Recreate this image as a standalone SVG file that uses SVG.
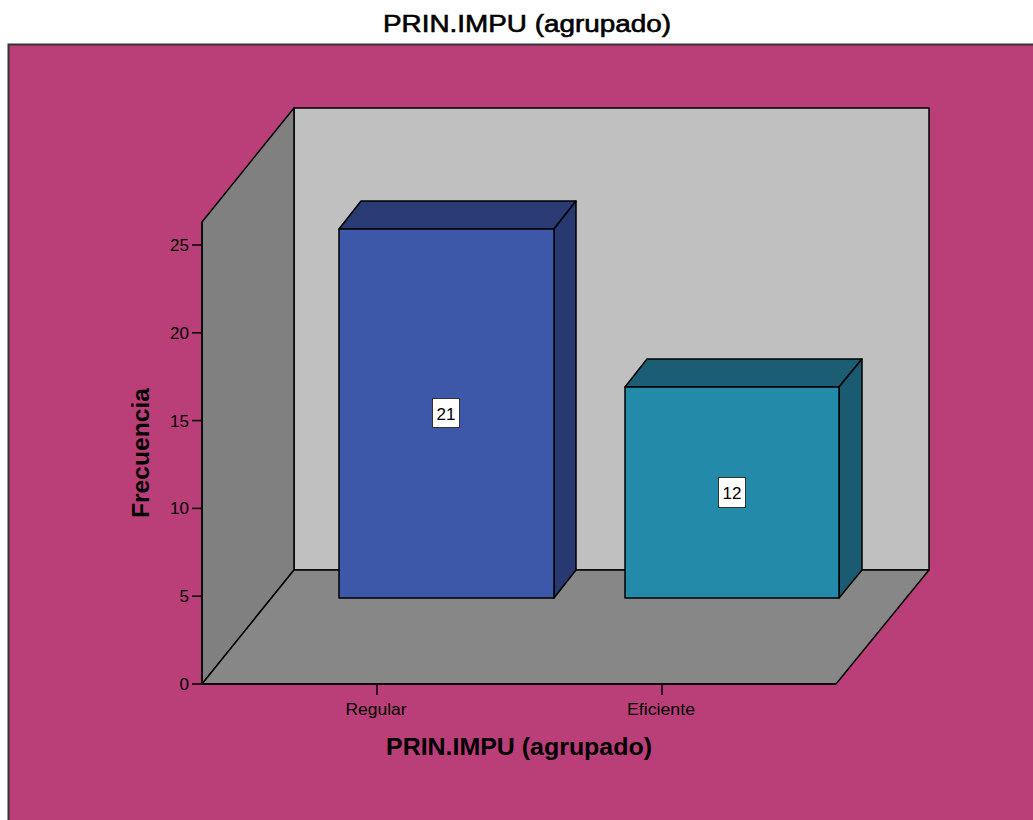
<svg xmlns="http://www.w3.org/2000/svg" width="1033" height="820" viewBox="0 0 1033 820">
<style>
text { font-family: "Liberation Sans", Arial, sans-serif; fill: #000; }
.tick { font-size: 17px; text-anchor: end; }
.cat { font-size: 17px; text-anchor: middle; }
.ttl { font-size: 24px; font-weight: bold; text-anchor: middle; }
.val { font-size: 17px; text-anchor: middle; }
.edge { stroke: #000; stroke-width: 1.5; stroke-linejoin: round; }
.vbox { fill: #fff; stroke: #333; stroke-width: 1; }
.tk { stroke: #000; stroke-width: 1.5; }
</style>
<rect x="0" y="0" width="1033" height="820" fill="#fff"/>
<text id="title" x="383" y="32" font-size="23" stroke="#000" stroke-width="0.6" textLength="288" lengthAdjust="spacingAndGlyphs">PRIN.IMPU (agrupado)</text>
<rect id="frame" x="8.5" y="44.5" width="1040" height="800" fill="#BA3E78" stroke="#333" stroke-width="2"/>
<g id="walls">
<polygon class="edge" points="294,108 929,108 929,570 294,570" fill="#C0C0C0"/>
<polygon class="edge" points="294,108 202,222 202,684 294,570" fill="#808080"/>
<polygon class="edge" points="202,684 294,570 929,570 836,684" fill="#878787"/>
</g>
<g id="bar-regular">
<polygon class="edge" points="339,229 361,201 576,201 554,229" fill="#2A3A72"/>
<polygon class="edge" points="554,229 576,201 576,570 554,598" fill="#283870"/>
<rect class="edge" x="339" y="229" width="215" height="369" fill="#3D57A9"/>
<rect class="vbox" x="432.5" y="398.5" width="27" height="29"/>
<text class="val" x="446" y="420">21</text>
</g>
<g id="bar-eficiente">
<polygon class="edge" points="625,387 647,359 862,359 839,387" fill="#1B5E74"/>
<polygon class="edge" points="839,387 862,359 862,570 839,598" fill="#1A5B71"/>
<rect class="edge" x="625" y="387" width="214" height="211" fill="#238AAA"/>
<rect class="vbox" x="718.5" y="477.5" width="27" height="30"/>
<text class="val" x="732" y="499">12</text>
</g>
<g id="connectors">
<line class="tk" x1="202" y1="222" x2="202" y2="684"/>
<line class="tk" x1="192" y1="684" x2="202" y2="684"/>
<line class="tk" x1="192" y1="596.2" x2="202" y2="596.2"/>
<line class="tk" x1="192" y1="508.4" x2="202" y2="508.4"/>
<line class="tk" x1="192" y1="420.6" x2="202" y2="420.6"/>
<line class="tk" x1="192" y1="332.8" x2="202" y2="332.8"/>
<line class="tk" x1="192" y1="245" x2="202" y2="245"/>
<line class="tk" x1="202" y1="684" x2="836" y2="684"/>
<line class="tk" x1="377" y1="684" x2="377" y2="695"/>
<line class="tk" x1="662" y1="684" x2="662" y2="695"/>
</g>
<g id="y-axis-labels">
<text class="tick" x="189" y="690">0</text>
<text class="tick" x="189" y="602">5</text>
<text class="tick" x="189" y="514">10</text>
<text class="tick" x="189" y="427">15</text>
<text class="tick" x="189" y="339">20</text>
<text class="tick" x="189" y="251">25</text>
</g>
<g id="x-axis-labels">
<text class="cat" x="376" y="715" textLength="61" lengthAdjust="spacingAndGlyphs">Regular</text>
<text class="cat" x="661" y="715" textLength="68" lengthAdjust="spacingAndGlyphs">Eficiente</text>
</g>
<text id="x-title" class="ttl" x="519" y="755" textLength="266" lengthAdjust="spacingAndGlyphs">PRIN.IMPU (agrupado)</text>
<text id="y-title" class="ttl" transform="translate(149,453) rotate(-90)" x="0" y="0" textLength="130" lengthAdjust="spacingAndGlyphs">Frecuencia</text>
</svg>
